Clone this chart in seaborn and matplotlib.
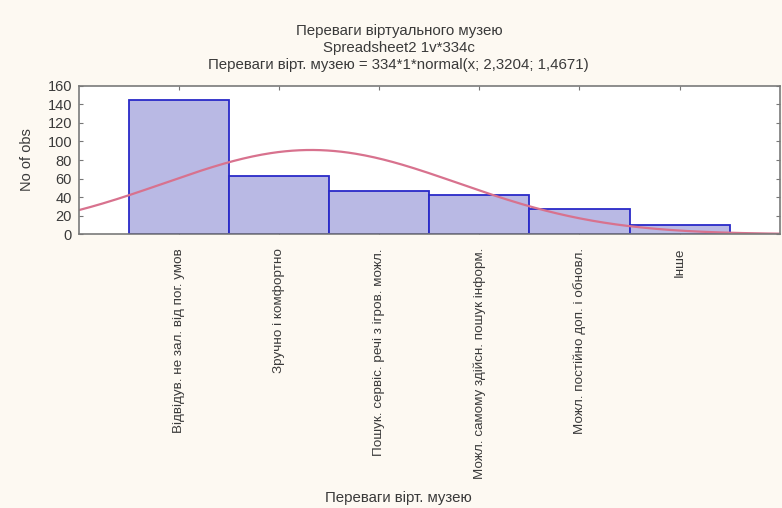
import numpy as np
import pandas as pd
import matplotlib
matplotlib.use("Agg")
import matplotlib.pyplot as plt
import seaborn as sns

# ---- data ----
categories = [
    "Відвідув. не зал. від пог. умов",
    "Зручно і комфортно",
    "Пошук. сервіс. речі з ігров. можл.",
    "Можл. самому здійсн. пошук інформ.",
    "Можл. постійно доп. і обновл.",
    "Інше",
]
counts = [145, 63, 47, 42, 27, 10]
fit_n = 334
fit_mean = 2.3204
fit_sd = 1.4671
yticks = [0, 20, 40, 60, 80, 100, 120, 140, 160]

title_lines = [
    "Переваги віртуального музею",
    "Spreadsheet2 1v*334c",
    "Переваги вірт. музею = 334*1*normal(x; 2,3204; 1,4671)",
]
xlabel = "Переваги вірт. музею"
ylabel = "No of obs"

# ---- style ----
sns.set_style("white")
plt.rcParams["font.family"] = ["Liberation Sans", "DejaVu Sans"]
bg = "#fdf9f2"
text_c = "#3a3a3a"

fig = plt.figure(figsize=(7.82, 5.08), dpi=100, facecolor=bg)
ax = fig.add_axes([0.101, 0.539, 0.896, 0.292])
ax.set_facecolor("white")

df = pd.DataFrame({"cat": categories, "n": counts})
sns.barplot(data=df, x="cat", y="n", ax=ax, width=1.0,
            color="#b9b9e4", edgecolor="#2a2ac8", linewidth=1.3, saturation=1)

# fitted normal curve (category codes 1..6 -> positions 0..5)
xc = np.linspace(0, 7, 300)
yc = fit_n * 1 / (fit_sd * np.sqrt(2 * np.pi)) * np.exp(-0.5 * ((xc - fit_mean) / fit_sd) ** 2)
sns.lineplot(x=xc - 1, y=yc, ax=ax, color="#d8728e", linewidth=1.6)

ax.set_xlim(-1, 6)
ax.set_ylim(0, 160)
ax.set_yticks(yticks)
ax.set_yticklabels([str(v) for v in yticks], fontsize=10.5, color=text_c)
ax.set_xticks(range(len(categories)))
ax.set_xticklabels(categories, rotation=90, fontsize=9.7, color=text_c, va="top")
ax.tick_params(axis="y", direction="in", length=3, left=True, right=True, color="#777777", pad=5)
ax.tick_params(axis="x", direction="in", length=3, bottom=True, top=True, color="#777777", pad=10)
for s in ax.spines.values():
    s.set_visible(True)
    s.set_color("#7a7a7a")
    s.set_linewidth(1.2)
ax.set_xlabel("")
ax.set_ylabel(ylabel, fontsize=10.5, color=text_c, labelpad=10)

ys = [0.939, 0.906, 0.872]
for t, y in zip(title_lines, ys):
    fig.text(0.51, y, t, ha="center", va="center", fontsize=10.8, color=text_c)
fig.text(0.51, 0.02, xlabel, ha="center", va="center", fontsize=10.8, color=text_c)

fig.savefig("out.png", dpi=100, facecolor=bg)
